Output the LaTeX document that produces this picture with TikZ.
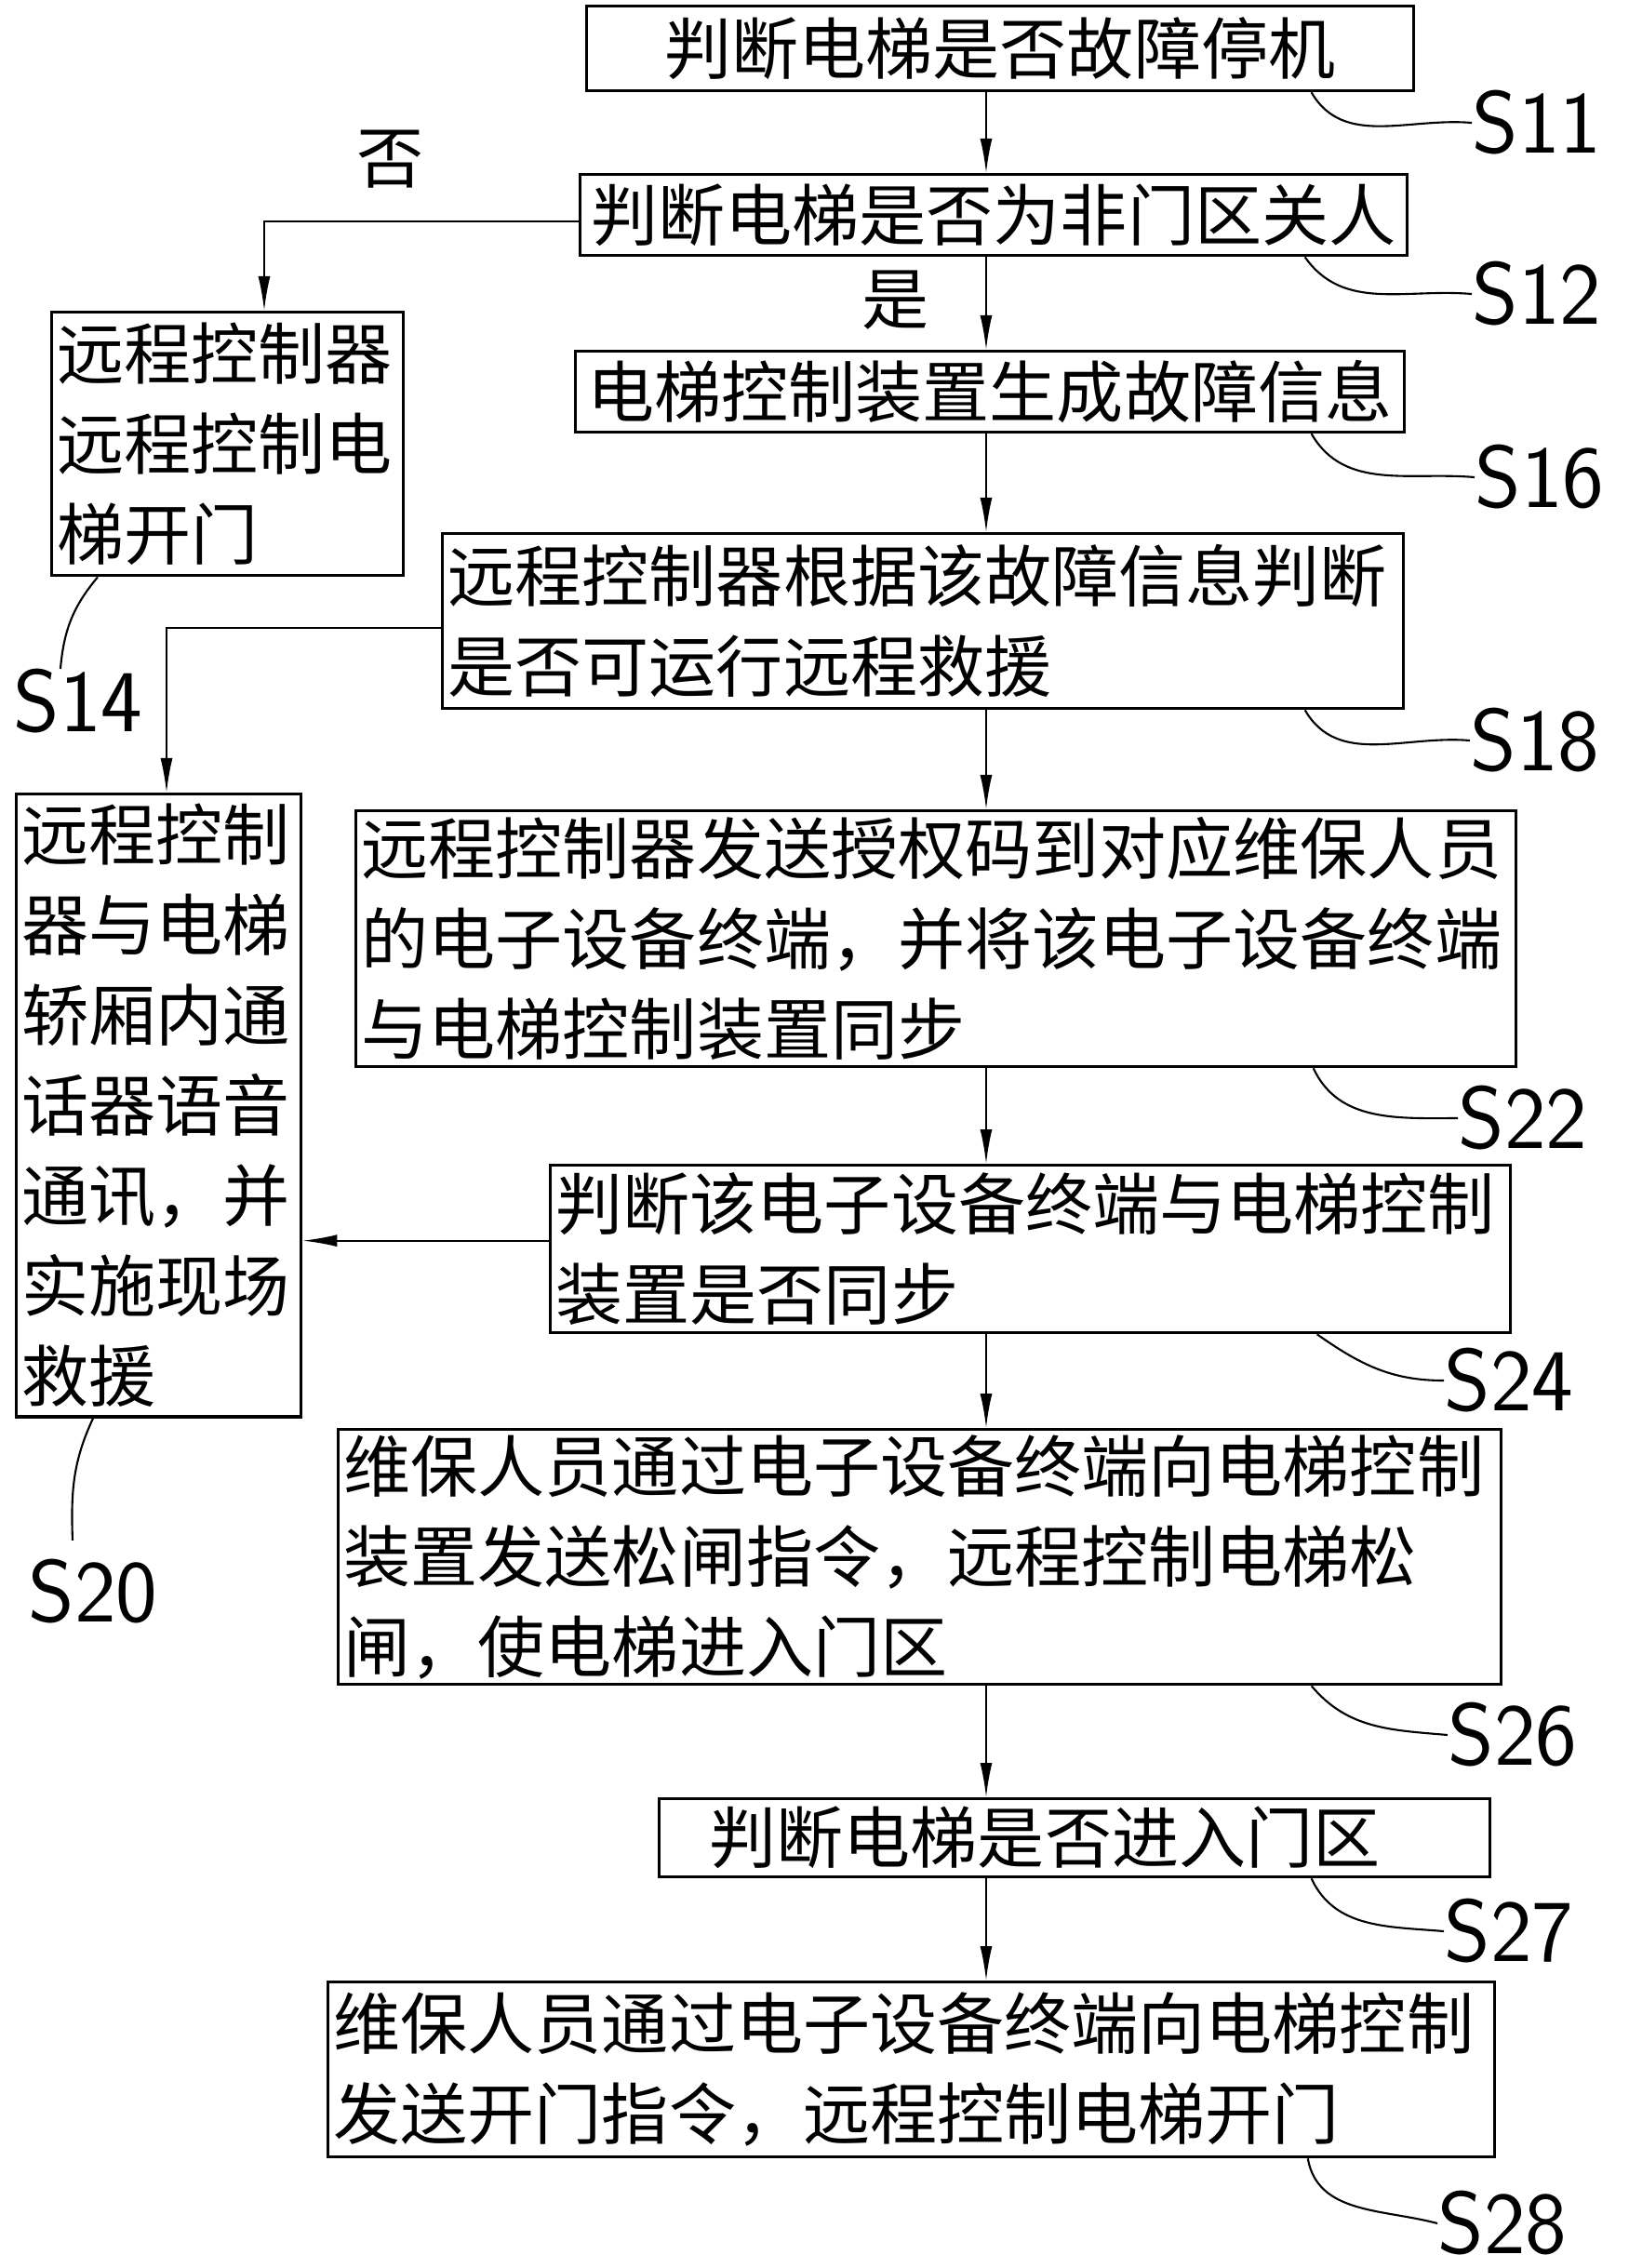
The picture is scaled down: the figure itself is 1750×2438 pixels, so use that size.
\documentclass[tikz,border=0pt]{standalone}
\usepackage{fontspec}
\newfontfamily\cjk{Noto Sans CJK SC}
\usetikzlibrary{arrows.meta}

\begin{document}
\begin{tikzpicture}[x=0.01cm,y=-0.01cm,
  box/.style={draw,line width=0.9pt,anchor=north west,inner xsep=0.06cm,inner ysep=0pt,
    font=\cjk\fontsize{20.5pt}{27.6pt}\selectfont},
  word/.style={font=\cjk\fontsize{20.5pt}{27.6pt}\selectfont,inner sep=0pt},
  arr/.style={-{Latex[length=0.37cm,width=0.13cm]},line width=0.6pt},
  lead/.style={line width=0.6pt},
  num/.style={font=\sffamily\fontsize{27pt}{28pt}\selectfont,inner sep=0pt}]
\useasboundingbox (0,0) rectangle (1750,2438);

% steps down the middle
\node[box,align=center,minimum width=8.88cm,minimum height=0.91cm] (s11) at (629,5) {判断电梯是否故障停机};
\node[box,align=center,minimum width=8.88cm,minimum height=0.87cm] (s12) at (622,186) {判断电梯是否为非门区关人};
\node[box,align=center,minimum width=8.90cm,minimum height=0.87cm] (s16) at (617,376) {电梯控制装置生成故障信息};
\node[box,align=left,text width=10.20cm,minimum height=1.88cm] (s18) at (474,572) {远程控制器根据该故障信息判断\\是否可运行远程救援};
\node[box,align=left,text width=12.34cm,minimum height=2.75cm] (s22) at (381,870) {远程控制器发送授权码到对应维保人员\\的电子设备终端，并将该电子设备终端\\与电梯控制装置同步};
\node[box,align=left,text width=10.19cm,minimum height=1.80cm] (s24) at (590,1251) {判断该电子设备终端与电梯控制\\装置是否同步};
\node[box,align=left,text width=12.37cm,minimum height=2.74cm] (s26) at (362,1535) {维保人员通过电子设备终端向电梯控制\\装置发送松闸指令，远程控制电梯松\\闸，使电梯进入门区};
\node[box,align=left,text width=8.80cm,minimum height=0.84cm] (s27) at (707,1932) {\hspace*{0.48cm}判断电梯是否进入门区};
\node[box,align=left,text width=12.41cm,minimum height=1.88cm] (s28) at (351,2129) {维保人员通过电子设备终端向电梯控制\\发送开门指令，远程控制电梯开门};

% left side
\node[box,align=left,text width=3.66cm,minimum height=2.83cm] (s14) at (54,334) {远程控制器\\远程控制电\\梯开门};
\node[box,align=left,text width=2.94cm,minimum height=6.69cm] (s20) at (16,852) {远程控制\\器与电梯\\轿厢内通\\话器语音\\通讯，并\\实施现场\\救援};

\node[word] (no) at (420,171) {否};
\node[word] (yes) at (963,323) {是};

\coordinate (axis) at (1060,0);
\coordinate (br1) at (284,0);
\coordinate (br2) at (179,0);

\draw[arr] (s11.south -| axis) -- (s12.north -| axis);
\draw[arr] (s12.south -| axis) -- (s16.north -| axis);
\draw[arr] (s16.south -| axis) -- (s18.north -| axis);
\draw[arr] (s18.south -| axis) -- (s22.north -| axis);
\draw[arr] (s22.south -| axis) -- (s24.north -| axis);
\draw[arr] (s24.south -| axis) -- (s26.north -| axis);
\draw[arr] (s26.south -| axis) -- (s27.north -| axis);
\draw[arr] (s27.south -| axis) -- (s28.north -| axis);

\draw[arr] ([yshift=-0.065cm]s12.west) -| (s14.north -| br1);
\draw[arr] ([yshift=-0.07cm]s18.west) -| (s20.north -| br2);
\draw[arr] ([yshift=0.09cm]s24.west) -- ([yshift=0.09cm]s24.west -| s20.east);

% step numbers
\node[num,anchor=west] (l11) at (1582,132) {S11};
\node[num,anchor=west] (l12) at (1582,316) {S12};
\node[num,anchor=west] (l16) at (1585,513) {S16};
\node[num,anchor=west] (l18) at (1580,796) {S18};
\node[num,anchor=west] (l22) at (1567,1202) {S22};
\node[num,anchor=west] (l24) at (1552,1484) {S24};
\node[num,anchor=west] (l26) at (1556,1865) {S26};
\node[num,anchor=west] (l27) at (1552,2076) {S27};
\node[num,anchor=west] (l28) at (1545,2390) {S28};
\node[num] (l14) at (84,754) {S14};
\node[num] (l20) at (100,1711) {S20};

\draw[lead] ([xshift=-1.11cm]s11.south east) to[out=-60,in=175] (l11.west);
\draw[lead] ([xshift=-1.11cm]s12.south east) to[out=-55,in=175] (l12.west);
\draw[lead] ([xshift=-1.01cm]s16.south east) to[out=-60,in=175] (l16.west);
\draw[lead] ([xshift=-1.07cm]s18.south east) to[out=-60,in=175] (l18.west);
\draw[lead] ([xshift=-2.19cm]s22.south east) to[out=-65,in=180] (l22.west);
\draw[lead] ([xshift=-2.09cm]s24.south east) to[out=-35,in=180] (l24.west);
\draw[lead] ([xshift=-2.05cm]s26.south east) to[out=-50,in=175] (l26.west);
\draw[lead] ([xshift=-1.93cm]s27.south east) to[out=-65,in=175] (l27.west);
\draw[lead] ([xshift=-2.02cm]s28.south east) to[out=-80,in=165] (l28.west);
\draw[lead] ([xshift=0.51cm]s14.south west) to[out=-130,in=85] ([xshift=-0.19cm]l14.north);
\draw[lead] ([xshift=0.84cm]s20.south west) to[out=-115,in=92] ([xshift=-0.22cm,yshift=0.2cm]l20.north);
\end{tikzpicture}
\end{document}
